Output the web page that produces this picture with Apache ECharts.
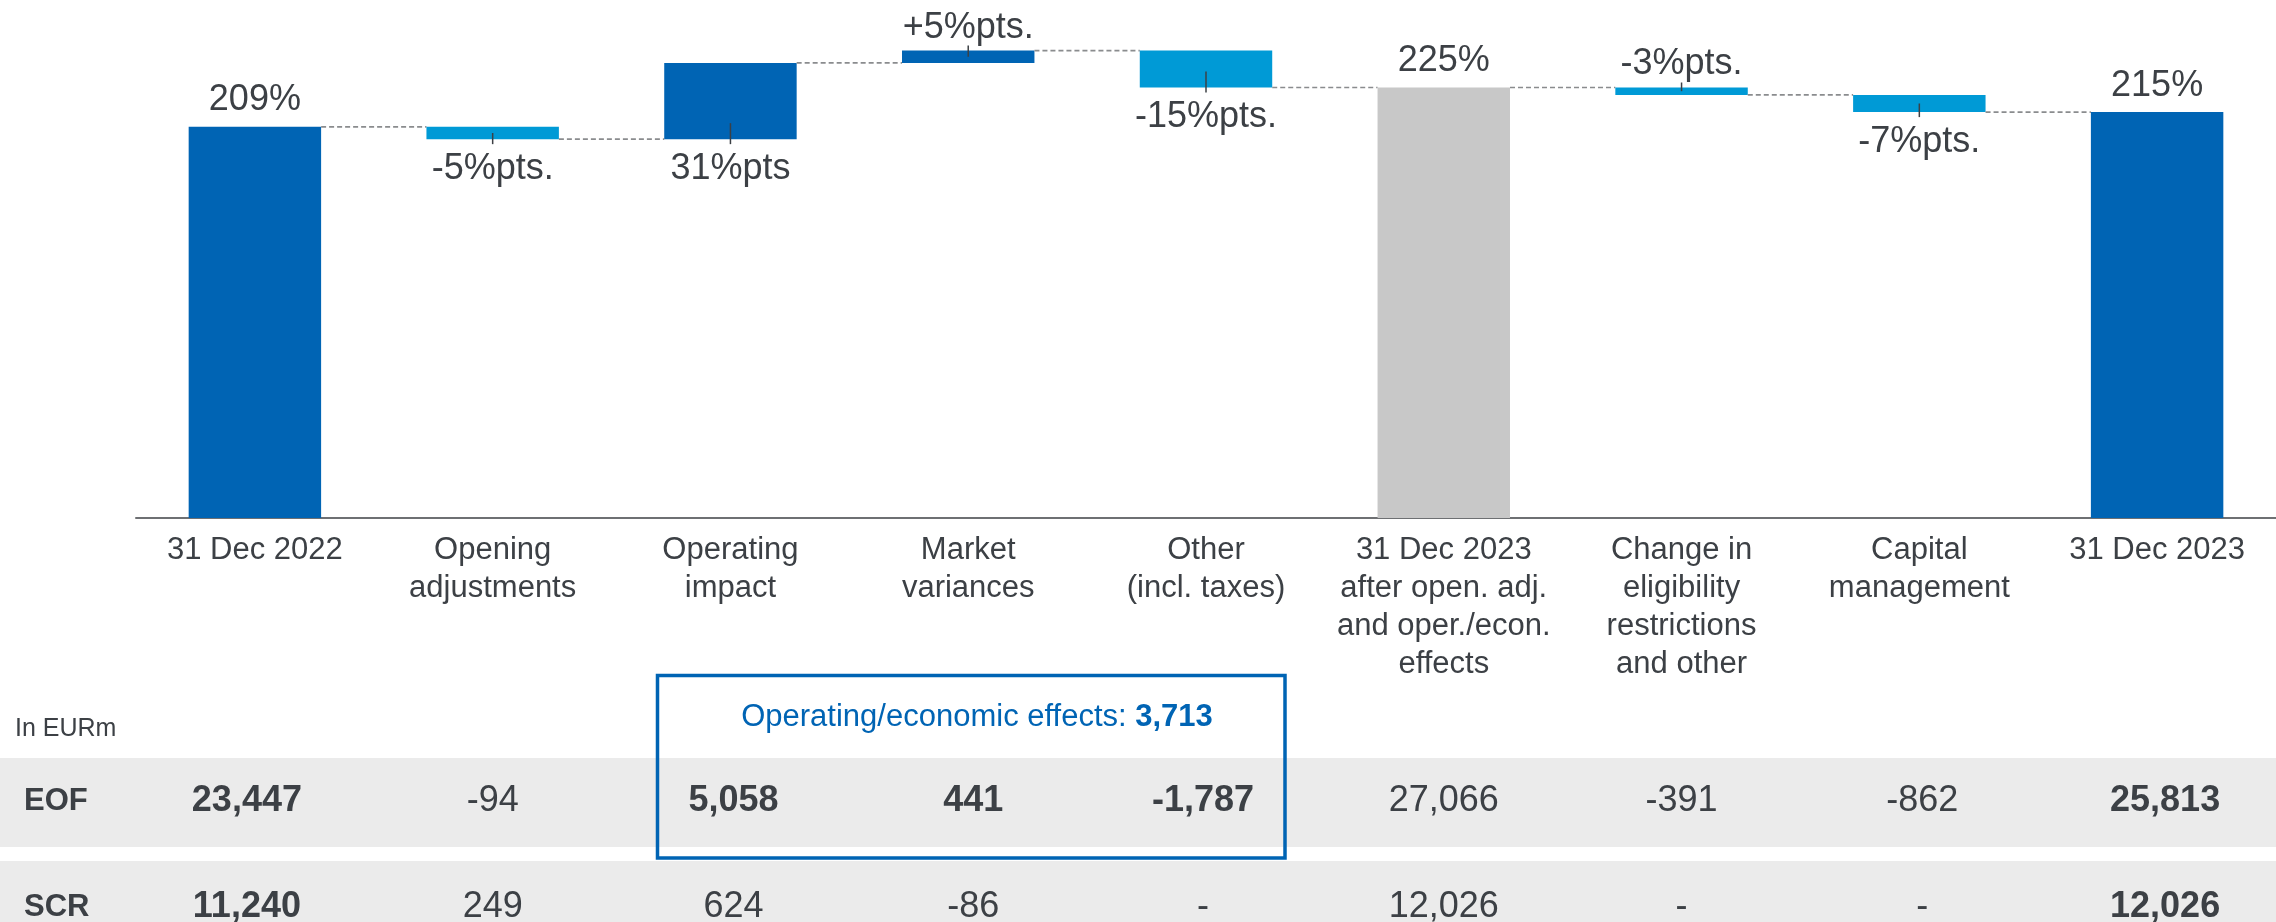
<!DOCTYPE html>
<html>
<head>
<meta charset="utf-8">
<script src="https://cdn.jsdelivr.net/npm/echarts@6/dist/echarts.min.js"></script>
<style>
  html, body { margin: 0; padding: 0; background: #ffffff; }
  #chart { width: 2276px; height: 922px; }
</style>
</head>
<body>
<div id="chart"></div>
<script>
// ---- Data ---------------------------------------------------------------
const categories = [
  '31 Dec 2022',
  'Opening\nadjustments',
  'Operating\nimpact',
  'Market\nvariances',
  'Other\n(incl. taxes)',
  '31 Dec 2023\nafter open. adj.\nand oper./econ.\neffects',
  'Change in\neligibility\nrestrictions\nand other',
  'Capital\nmanagement',
  '31 Dec 2023'
];
// Solvency ratio in % (totals) and %pts (movements)
const ratioSteps = [209, -5, 31, 5, -15, 225, -3, -7, 215];
const stepKinds = ['total', 'delta', 'delta', 'delta', 'delta', 'subtotal', 'delta', 'delta', 'total'];
const valueLabels = ['209%', '-5%pts.', '31%pts', '+5%pts.', '-15%pts.', '225%', '-3%pts.', '-7%pts.', '215%'];

// Table below the chart, in EURm
const rowNames = ['EOF', 'SCR'];
const eofValues = [23447, -94, 5058, 441, -1787, 27066, -391, -862, 25813];
const scrValues = [11240, 249, 624, -86, null, 12026, null, null, 12026];
const opEconEffects = 3713;

// ---- Styling ------------------------------------------------------------
const FONT = '"Liberation Sans", Arial, Helvetica, sans-serif';
const TEXT = '#3c4045';
const DARK_BLUE = '#0064b4';
const LIGHT_BLUE = '#009ad6';
const GREY_BAR = '#c8c8c8';
const labelBelow = [false, true, true, false, true, false, false, true, false];
const eofBold = [true, false, true, true, true, false, false, false, true];
const scrBold = [true, false, false, false, false, false, false, false, true];
const colShift = [-8, 0, 3, 5, -3, 0, 0, 3, 8];

// ---- Waterfall layout ---------------------------------------------------
const steps = [];
let running = 0;
ratioSteps.forEach((v, i) => {
  if (stepKinds[i] === 'delta') {
    steps.push([i, running, running + v, i]);
    running += v;
  } else {
    steps.push([i, 0, v, i]);
    running = v;
  }
});

function barColor(i) {
  if (stepKinds[i] === 'subtotal') return GREY_BAR;
  if (stepKinds[i] === 'total') return DARK_BLUE;
  return ratioSteps[i] >= 0 ? DARK_BLUE : LIGHT_BLUE;
}

function renderStep(params, api) {
  const i = api.value(0);
  const start = api.value(1);
  const end = api.value(2);
  const cs = params.coordSys;
  const band = api.size([1, 0])[0];
  const barW = band * 0.557;
  const cx = api.coord([i, end])[0];
  const yStart = Math.min(api.coord([i, start])[1], cs.y + cs.height);
  const yEnd = api.coord([i, end])[1];
  const top = Math.min(yStart, yEnd);
  const bottom = Math.max(yStart, yEnd);
  const h = bottom - top;
  const children = [{
    type: 'rect',
    shape: { x: cx - barW / 2, y: top, width: barW, height: h },
    style: { fill: barColor(i) }
  }];

  const isDelta = stepKinds[i] === 'delta';
  const below = labelBelow[i];
  // Short leader line for the movement bars
  if (isDelta) {
    const inside = Math.min(16, h / 2);
    const y1 = below ? bottom - inside : top - 5;
    const y2 = below ? bottom + 5 : top + inside;
    children.push({
      type: 'line',
      shape: { x1: cx, y1: y1, x2: cx, y2: y2 },
      style: { stroke: TEXT, lineWidth: 1.5 }
    });
  }
  // Value label
  const ly = below ? bottom + 30 : top - (isDelta ? 23 : 26.5);
  children.push({
    type: 'text',
    style: {
      text: valueLabels[i], x: cx, y: ly,
      align: 'center', verticalAlign: 'middle',
      fill: TEXT, fontSize: 36, fontFamily: FONT
    }
  });
  // Dashed connector to the next bar
  if (i < categories.length - 1) {
    const x1 = cx + barW / 2;
    children.push({
      type: 'line',
      shape: { x1: x1, y1: yEnd, x2: x1 + band - barW, y2: yEnd },
      style: { stroke: '#8a8c8e', lineWidth: 1.6, lineDash: [5, 3] }
    });
  }
  return { type: 'group', children: children };
}

const chart = echarts.init(document.getElementById('chart'), null, { renderer: 'canvas' });

chart.setOption({
  animation: false,
  backgroundColor: '#ffffff',
  grid: { left: 136, right: 0, top: 26, bottom: 404 },
  xAxis: {
    type: 'category',
    data: categories,
    axisLine: { lineStyle: { color: '#6e7073', width: 2 } },
    axisTick: { show: false },
    axisLabel: {
      interval: 0, color: TEXT, fontSize: 31, lineHeight: 38,
      fontFamily: FONT, margin: 13
    }
  },
  yAxis: { type: 'value', min: 50, max: 250, interval: 50, show: false },
  series: [{
    type: 'custom',
    data: steps,
    clip: false,
    encode: { x: 0, y: [1, 2] },
    renderItem: renderStep
  }]
});

// ---- Table of own funds / SCR -----------------------------------------
function fmt(n) {
  return n == null ? '-' : n.toLocaleString('en-US');
}

const colX = categories.map((c, i) => chart.convertToPixel({ xAxisIndex: 0 }, i) + colShift[i]);
const rowY = [801, 907];
const graphics = [];

graphics.push({ type: 'rect', shape: { x: 0, y: 758, width: 2276, height: 89 }, style: { fill: '#ebebeb' }, z: 0 });
graphics.push({ type: 'rect', shape: { x: 0, y: 861, width: 2276, height: 89 }, style: { fill: '#ebebeb' }, z: 0 });

graphics.push({
  type: 'text', z: 2,
  style: { text: 'In EURm', x: 15, y: 729, verticalAlign: 'middle', fill: TEXT, fontSize: 25, fontFamily: FONT }
});

[eofValues, scrValues].forEach((vals, r) => {
  const bold = r === 0 ? eofBold : scrBold;
  graphics.push({
    type: 'text', z: 2,
    style: {
      text: rowNames[r], x: 24, y: rowY[r], verticalAlign: 'middle',
      fill: TEXT, fontSize: 31, fontWeight: 'bold', fontFamily: FONT
    }
  });
  vals.forEach((v, i) => {
    graphics.push({
      type: 'text', z: 2,
      style: {
        text: fmt(v), x: colX[i], y: rowY[r], align: 'center', verticalAlign: 'middle',
        fill: TEXT, fontSize: 36, fontWeight: bold[i] ? 'bold' : 'normal', fontFamily: FONT
      }
    });
  });
});

// Frame around the operating/economic effects
graphics.push({
  type: 'rect', z: 3,
  shape: { x: 657.5, y: 675.5, width: 627.5, height: 182.5 },
  style: { fill: 'none', stroke: DARK_BLUE, lineWidth: 3.5 }
});
graphics.push({
  type: 'text', z: 3,
  style: {
    text: '{a|Operating/economic effects: }{b|' + fmt(opEconEffects) + '}',
    x: 977, y: 717, align: 'center', verticalAlign: 'middle',
    rich: {
      a: { fill: DARK_BLUE, fontSize: 31, fontFamily: FONT },
      b: { fill: DARK_BLUE, fontSize: 31, fontWeight: 'bold', fontFamily: FONT }
    }
  }
});

chart.setOption({ graphic: graphics });
</script>
</body>
</html>
